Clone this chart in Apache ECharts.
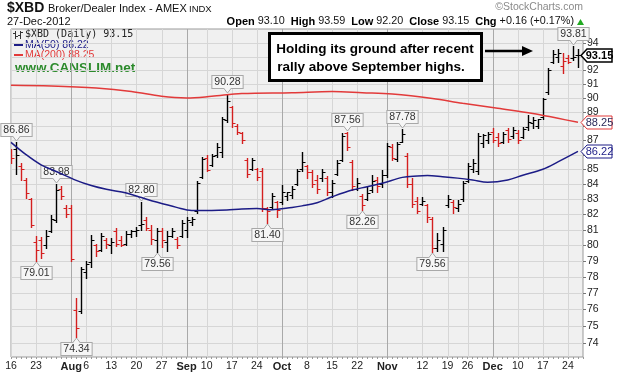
<!DOCTYPE html>
<html><head><meta charset="utf-8">
<script src="https://cdn.jsdelivr.net/npm/echarts@6/dist/echarts.min.js"></script>
<style>html,body{margin:0;padding:0;background:#fff}#c{width:622px;height:377px}</style>
</head><body><div id="c"></div>
<script>
// ---------- DATA ----------
const days = [
 '07-16','07-17','07-18','07-19','07-20','07-23','07-24','07-25','07-26','07-27',
 '07-30','07-31','08-01','08-02','08-03','08-06','08-07','08-08','08-09','08-10',
 '08-13','08-14','08-15','08-16','08-17','08-20','08-21','08-22','08-23','08-24',
 '08-27','08-28','08-29','08-30','08-31','09-04','09-05','09-06','09-07',
 '09-10','09-11','09-12','09-13','09-14','09-17','09-18','09-19','09-20','09-21',
 '09-24','09-25','09-26','09-27','09-28','10-01','10-02','10-03','10-04','10-05',
 '10-08','10-09','10-10','10-11','10-12','10-15','10-16','10-17','10-18','10-19',
 '10-22','10-23','10-24','10-25','10-26','10-31','11-01','11-02',
 '11-05','11-06','11-07','11-08','11-09','11-12','11-13','11-14','11-15','11-16',
 '11-19','11-20','11-21','11-23','11-26','11-27','11-28','11-29','11-30',
 '12-03','12-04','12-05','12-06','12-07','12-10','12-11','12-12','12-13','12-14',
 '12-17','12-18','12-19','12-20','12-21','12-24','12-26','12-27'];
const opens = [86.2,86.4,85.2,84.3,83.0,80.2,80.3,80.0,80.9,81.6,
 83.7,82.4,82.4,75.95,75.9,78.3,78.9,80.0,79.7,80.3,
 80.0,80.9,80.3,80.1,80.7,80.9,81.3,81.6,81.0,80.3,
 80.9,80.2,80.6,80.4,80.6,81.0,81.5,82.2,84.5,
 85.8,85.3,86.0,86.2,88.4,89.3,88.0,87.5,85.6,85.0,
 85.0,84.9,82.4,82.5,82.8,82.8,83.2,83.3,84.0,85.0,
 85.2,84.8,84.3,84.4,84.4,83.5,84.7,85.6,87.5,85.5,
 83.7,83.2,83.0,83.6,84.3,84.0,84.6,86.5,
 85.7,86.9,85.9,84.0,82.9,82.7,82.6,81.7,79.8,80.1,
 82.6,82.8,82.4,83.0,84.2,85.0,84.9,86.8,87.0,
 87.6,87.2,86.9,87.7,87.3,87.5,87.2,87.9,88.2,88.0,
 88.6,90.4,92.6,93.0,92.3,92.9,92.9,93.10];
const highs = [86.4,86.86,85.45,84.4,83.05,80.6,80.5,80.95,81.95,83.98,
 83.85,82.6,82.6,76.7,78.6,79.0,80.65,80.1,80.8,80.45,
 80.45,81.1,80.6,80.9,81.0,81.2,82.80,81.8,81.3,81.1,
 81.1,80.9,81.1,80.55,81.6,81.85,81.85,84.2,85.85,
 85.98,86.05,86.8,88.65,90.28,89.4,88.1,87.6,85.75,85.8,
 85.1,85.1,82.5,83.4,82.9,83.95,83.5,83.85,85.05,86.15,
 85.3,84.95,84.6,85.05,84.55,84.3,85.65,87.5,87.56,85.65,
 84.4,83.35,83.85,84.6,84.45,84.95,86.8,86.7,
 86.9,87.78,86.1,84.4,83.15,83.15,82.7,81.85,80.75,81.2,
 83.25,82.95,82.95,84.2,85.4,85.7,87.5,87.4,87.6,
 87.85,87.5,87.6,87.85,87.95,87.7,87.95,88.8,88.65,88.5,
 89.95,92.15,93.5,93.55,93.25,93.1,93.81,93.59];
const lows = [85.4,84.68,84.27,83.1,81.2,79.01,79.2,79.8,80.85,81.5,
 83.0,81.8,79.0,74.34,75.8,77.9,78.64,79.3,79.6,79.8,
 79.5,79.95,79.95,80.0,80.5,80.6,81.0,81.0,80.1,79.56,
 79.9,79.6,80.5,79.8,80.5,80.55,81.3,82.1,84.4,
 84.85,85.2,85.85,85.85,88.3,87.95,87.4,86.8,84.5,84.95,
 84.25,82.2,81.40,82.4,81.85,82.7,82.95,83.05,83.95,84.9,
 84.4,83.8,83.4,84.2,83.25,83.15,84.6,85.55,86.3,83.6,
 83.6,82.26,82.95,83.5,83.5,83.8,84.5,85.65,
 85.55,86.85,83.8,82.5,82.05,82.6,81.5,79.56,79.6,79.65,
 82.5,82.05,82.2,82.9,84.15,84.8,84.7,86.5,86.8,
 86.9,86.6,86.8,86.9,87.15,86.8,87.15,87.7,87.85,87.85,
 88.5,90.3,92.5,92.6,91.8,92.5,92.75,92.20];
const closes = [85.75,85.95,85.0,83.4,81.3,79.7,79.5,80.6,81.7,83.6,
 83.2,82.0,79.1,74.85,78.5,78.8,80.3,79.6,80.6,80.1,
 80.2,80.1,80.0,80.7,80.9,81.0,81.35,81.1,80.4,80.9,
 80.3,80.6,80.9,80.0,81.4,81.6,81.7,84.1,85.7,
 84.95,85.9,86.5,88.5,89.8,88.2,87.6,87.0,84.7,85.6,
 84.5,82.4,82.2,83.2,82.3,83.5,83.5,83.7,84.9,85.5,
 84.8,84.0,83.7,84.8,83.5,84.1,85.4,87.3,86.5,83.9,
 84.1,82.6,83.4,84.2,83.9,84.6,86.6,85.8,
 86.7,87.4,84.0,82.7,82.2,82.9,81.8,79.8,80.3,81.0,
 83.0,82.5,82.7,84.1,85.2,85.4,87.3,87.35,87.4,
 87.0,86.8,87.4,87.1,87.7,87.0,87.8,88.3,88.4,88.45,
 89.9,92.0,93.2,93.3,92.7,92.6,92.99,93.15];
// moving averages (trading-day index -> value)
const ma50Idx  = [0,3,6,9,13,16,19,23,26,29,33,36,40,43,46,49,52,56,58,61,64,68,71,74,78,81,83,86,89,92,95,99,102,106,109,113];
const ma50Vals = [86.85,86.0,85.3,84.85,84.25,83.9,83.65,83.4,83.1,82.8,82.45,82.25,82.25,82.28,82.35,82.37,82.3,82.45,82.55,82.76,83.15,83.6,83.82,84.05,84.45,84.55,84.58,84.5,84.4,84.27,84.12,84.27,84.6,85.0,85.5,86.22];
const ma200Idx  = [0,8,17,24,30,35,40,46,56,64,70,76,84,90,97,104,109,113];
const ma200Vals = [90.9,90.85,90.7,90.45,90.1,89.98,90.1,90.3,90.36,90.44,90.36,90.27,89.95,89.6,89.24,88.88,88.53,88.25];
// high / low callouts
const calloutIdx  = [1,5,9,13,26,29,43,51,67,70,78,84,112];
const calloutVals = [86.86,79.01,83.98,74.34,82.80,79.56,90.28,81.40,87.56,82.26,87.78,79.56,93.81];
const calloutSide = ['h','l','h','l','h','l','h','l','h','l','h','l','h'];
// axis ticks
const yTicks = [74,75,76,77,78,79,80,81,82,83,84,85,86,87,88,89,90,91,92,93,94];
const xTickDates = ['07-16','07-23','08-01','08-06','08-13','08-20','08-27','09-04','09-10','09-17','09-24','10-01','10-08','10-15','10-22','11-01','11-12','11-19','11-26','12-03','12-10','12-17','12-24'];
const xTickTexts = ['16','23','Aug','6','13','20','27','Sep','10','17','24','Oct','8','15','22','Nov','12','19','26','Dec','10','17','24'];
const monthLabels = ['Aug','Sep','Oct','Nov','Dec'];

// ---------- CHART ----------
const chart = echarts.init(document.getElementById('c'), null, {renderer:'canvas'});
const cats = days.concat(['']);
const tickMap = {}; xTickDates.forEach((d,k)=>tickMap[d]=xTickTexts[k]);
const RED = '#d41f1f', NAVY = '#1c1c86', MARED = '#e23a3a';
const last = days.length - 1;
const fmt = v => v.toFixed(2);
const FONT = '"Liberation Sans", Arial';

const hGridSeries = {
  type:'custom', silent:true, clip:false,
  data: yTicks.map(v=>[0,v]),
  renderItem(params, api){
    const cs = params.coordSys;
    const y = Math.round(api.coord([0, api.value(1)])[1]) + 0.5;
    return {type:'group', children:[
      {type:'line', shape:{x1:cs.x, y1:y, x2:cs.x+cs.width, y2:y}, style:{stroke:'#d6d6d6', lineWidth:1}},
      {type:'line', shape:{x1:cs.x+cs.width, y1:y, x2:cs.x+cs.width+3, y2:y}, style:{stroke:'#777', lineWidth:1}},
      {type:'text', style:{x:cs.x+cs.width+4, y:y, text:String(api.value(1)), align:'left', verticalAlign:'middle', font:'10.5px '+FONT, fill:'#222'}}
    ]};
  }
};
const vGridSeries = {
  type:'custom', silent:true, clip:false,
  data: xTickDates.map(d=>[days.indexOf(d), 80]),
  renderItem(params, api){
    const cs = params.coordSys;
    const idx = api.value(0);
    const x = Math.round(api.coord([idx, 80])[0]) + 0.5;
    const isMonth = monthLabels.indexOf(tickMap[days[idx]]) >= 0;
    return {type:'line', shape:{x1:x, y1:cs.y, x2:x, y2:cs.y+cs.height}, style:{stroke:isMonth?'#a9a9a9':'#d6d6d6', lineWidth:1}};
  }
};

const ohlcSeries = {
  type:'custom', name:'$XBD', clip:true,
  data: days.map((d,i)=>[i, opens[i], highs[i], lows[i], closes[i]]),
  encode:{x:0, y:[1,2,3,4]},
  renderItem(params, api){
    const i = api.value(0);
    const hi = api.coord([i, api.value(2)]), lo = api.coord([i, api.value(3)]);
    const op = api.coord([i, api.value(1)]), cl = api.coord([i, api.value(4)]);
    const x = Math.round(hi[0]) + 0.5;
    const prev = i > 0 ? closes[i-1] : opens[i];
    const col = api.value(4) >= prev ? '#000' : RED;
    const yo = Math.round(op[1]) + 0.5, yc = Math.round(cl[1]) + 0.5;
    return {type:'group', children:[
      {type:'line', shape:{x1:x, y1:Math.round(hi[1]), x2:x, y2:Math.round(lo[1])+1}, style:{stroke:col, lineWidth:1.4}},
      {type:'line', shape:{x1:x-3, y1:yo, x2:x, y2:yo}, style:{stroke:col, lineWidth:1}},
      {type:'line', shape:{x1:x, y1:yc, x2:x+3, y2:yc}, style:{stroke:col, lineWidth:1}}
    ]};
  }
};

const calloutSeries = {
  type:'custom', silent:true, clip:false,
  data: calloutIdx.map((i,k)=>[i, calloutVals[k]]),
  renderItem(params, api){
    const k = params.dataIndex;
    const p = api.coord([api.value(0), api.value(1)]);
    const x = Math.round(p[0]) + 0.5, y = Math.round(p[1]);
    const up = calloutSide[k] === 'h';
    const yb = up ? y - 6 : y + 6;
    const tip = up ? y - 1 : y + 1;
    return {type:'group', children:[
      {type:'text', style:{x:x, y:yb, text:fmt(api.value(1)), align:'center', verticalAlign: up?'bottom':'top',
        font:'10.5px '+FONT, fill:'#333', backgroundColor:'#f6f6f6', borderColor:'#a8a8a8', borderWidth:1, padding:[1,2,0,2]}},
      {type:'polygon', shape:{points:[[x-4,yb],[x+4,yb],[x,tip]]}, style:{fill:'#f6f6f6', stroke:null}},
      {type:'polyline', shape:{points:[[x-4,yb],[x,tip],[x+4,yb]]}, style:{stroke:'#a8a8a8', lineWidth:1, fill:null}}
    ]};
  }
};

const flagVals = [closes[last], ma200Vals[ma200Vals.length-1], ma50Vals[ma50Vals.length-1]];
const flagStyles = [
  {stroke:'#000', lw:1.5, color:'#000', font:'bold 11px '+FONT},
  {stroke:MARED, lw:1, color:'#2a2a5a', font:'11px '+FONT},
  {stroke:NAVY, lw:1, color:NAVY, font:'11px '+FONT}
];
const flagSeries = {
  type:'custom', silent:true, clip:false,
  data: flagVals.map(v=>[last, v]),
  renderItem(params, api){
    const s = flagStyles[params.dataIndex];
    const cs = params.coordSys;
    const y = Math.round(api.coord([api.value(0), api.value(1)])[1]) + 0.5;
    const x0 = cs.x + cs.width - 2;
    return {type:'group', children:[
      {type:'polygon', shape:{points:[[x0,y],[x0+6,y-6.5],[x0+31,y-6.5],[x0+31,y+6.5],[x0+6,y+6.5]]}, style:{fill:'#fff', stroke:s.stroke, lineWidth:s.lw}},
      {type:'text', style:{x:x0+18.5, y:y+0.5, text:fmt(api.value(1)), align:'center', verticalAlign:'middle', font:s.font, fill:s.color}}
    ]};
  }
};

const option = {
  animation:false,
  backgroundColor:'#fff',
  grid:{left:11, right:39, top:29, bottom:20, show:true, backgroundColor:'#f0f0f0', borderColor:'#9a9a9a', borderWidth:1},
  xAxis:{
    type:'category', data:cats, boundaryGap:false,
    axisLine:{show:false},
    axisTick:{show:true, interval:0, length:2, lineStyle:{color:'#999'}},
    splitLine:{show:false},
    axisLabel:{
      interval:(idx, val)=>tickMap[val] !== undefined,
      formatter:(val)=>{const t = tickMap[val]; if (t===undefined) return ''; return monthLabels.indexOf(t)>=0 ? '{m|'+t+'}' : t;},
      margin:4, color:'#222', fontSize:10.5, fontFamily:FONT,
      rich:{m:{fontWeight:'bold', fontSize:11, color:'#222', fontFamily:FONT}}
    }
  },
  yAxis:{type:'log', logBase:Math.E, min:73.16, max:95.08, show:false, splitLine:{show:false}},
  series:[
    hGridSeries,
    vGridSeries,
    {type:'line', name:'MA(200)', data:ma200Idx.map((i,k)=>[i, ma200Vals[k]]), smooth:0.35, showSymbol:false, silent:true, lineStyle:{color:MARED, width:1.5}},
    {type:'line', name:'MA(50)', data:ma50Idx.map((i,k)=>[i, ma50Vals[k]]), smooth:0.35, showSymbol:false, silent:true, lineStyle:{color:NAVY, width:1.5}},
    ohlcSeries,
    calloutSeries,
    flagSeries
  ],
  graphic:[
    // header
    {type:'text', left:7, top:1, style:{text:'$XBD', font:'bold 14px '+FONT, fill:'#111'}},
    {type:'text', left:48, top:3, style:{text:'Broker/Dealer Index - AMEX', font:'11px '+FONT, fill:'#111'}},
    {type:'text', left:189, top:4, style:{text:'INDX', font:'9.5px '+FONT, fill:'#111'}},
    {type:'text', right:39, top:2, style:{text:'\u00A9StockCharts.com', font:'10.5px '+FONT, fill:'#8a8a8a'}},
    {type:'text', left:7, top:16, style:{text:'27-Dec-2012', font:'11px '+FONT, fill:'#111'}},
    {type:'text', right:48, top:16, style:{
      text:'{b|Open} 93.10  {b|High} 93.59  {b|Low} 92.20  {b|Close} 93.15  {b|Chg} +0.16 (+0.17%)',
      font:'10.8px '+FONT, fill:'#111',
      rich:{b:{fontWeight:'bold', fontSize:11, fontFamily:FONT, fill:'#000'}}}},
    {type:'polygon', shape:{points:[[577,25],[584,25],[580.5,19]]}, style:{fill:'#22aa22'}},
    // legend
    {type:'line', shape:{x1:15.5,y1:31,x2:15.5,y2:39}, style:{stroke:'#333', lineWidth:1}},
    {type:'line', shape:{x1:13,y1:33.5,x2:15.5,y2:33.5}, style:{stroke:'#333', lineWidth:1}},
    {type:'line', shape:{x1:15.5,y1:36.5,x2:18,y2:36.5}, style:{stroke:'#333', lineWidth:1}},
    {type:'line', shape:{x1:20.5,y1:31,x2:20.5,y2:39}, style:{stroke:'#333', lineWidth:1}},
    {type:'line', shape:{x1:18,y1:35.5,x2:20.5,y2:35.5}, style:{stroke:'#333', lineWidth:1}},
    {type:'line', shape:{x1:20.5,y1:32.5,x2:23,y2:32.5}, style:{stroke:'#333', lineWidth:1}},
    {type:'text', left:25, top:29, style:{text:'$XBD (Daily) '+fmt(closes[last]), font:'10px "DejaVu Sans Mono", monospace', fill:'#222'}},
    {type:'rect', shape:{x:14,y:44,width:9,height:2}, style:{fill:NAVY}},
    {type:'text', left:25, top:40, style:{text:'MA(50) '+fmt(ma50Vals[ma50Vals.length-1]), font:'10.5px '+FONT, fill:NAVY}},
    {type:'rect', shape:{x:14,y:54,width:9,height:2}, style:{fill:MARED}},
    {type:'text', left:25, top:50, style:{text:'MA(200) '+fmt(ma200Vals[ma200Vals.length-1]), font:'10.5px '+FONT, fill:MARED}},
    {type:'text', left:15, top:61, style:{text:'www.CANSLIM.net', font:'bold 13.5px '+FONT, fill:'#2b8a2b'}},
    // annotation
    {type:'rect', shape:{x:269.5,y:33.5,width:212,height:47}, style:{fill:'#fff', stroke:'#000', lineWidth:3}, z:50},
    {type:'text', x:375, y:49, style:{text:'Holding its ground after recent', align:'center', verticalAlign:'middle', font:'bold 13.5px '+FONT, fill:'#000'}, z:51},
    {type:'text', x:371, y:67, style:{text:'rally above September highs.', align:'center', verticalAlign:'middle', font:'bold 13.5px '+FONT, fill:'#000'}, z:51},
    {type:'line', shape:{x1:485,y1:51,x2:524,y2:51}, style:{stroke:'#000', lineWidth:2.5}, z:50},
    {type:'polygon', shape:{points:[[522,46],[533,51],[522,56]]}, style:{fill:'#000'}, z:50}
  ]
};
chart.setOption(option);
</script>
</body></html>
